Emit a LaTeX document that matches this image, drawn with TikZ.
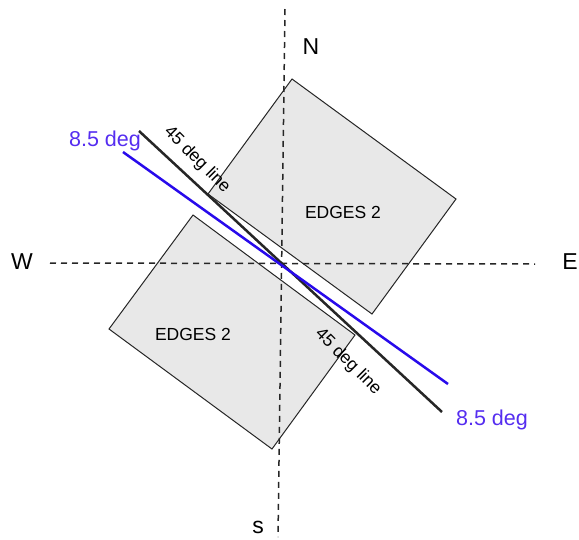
\documentclass[tikz,border=0pt]{standalone}
\usepackage{fontspec}
\setmainfont{Liberation Sans}
\usetikzlibrary{calc}
\definecolor{tiltblue}{RGB}{40,10,235}
\definecolor{tilttext}{RGB}{85,45,240}

\begin{document}
\begin{tikzpicture}[
  x=1pt, y=-1pt,
  font=\fontsize{17.5}{20}\selectfont,
  axis/.style={dash pattern=on 6pt off 5pt, line width=1.5pt, black!85},
  plate/.style={draw=black!85, line width=1pt, fill=gray!18},
  cutline/.style={line width=2.5pt, black!85},
  tiltline/.style={line width=2.5pt, tiltblue},
  compass/.style={font=\fontsize{23}{25}\selectfont},
  tiltlbl/.style={font=\fontsize{21.5}{24}\selectfont, text=tilttext},
  cutlbl/.style={rotate=-45, inner sep=1pt}
]
\useasboundingbox (0,0) rectangle (579,539);

% corners of the two plates
\coordinate (up-top) at (292,79);
\coordinate (up-right) at (456,199);
\coordinate (up-bottom) at (372,314);
\coordinate (up-left) at (208,194);
\coordinate (lo-top) at (193,215);
\coordinate (lo-right) at (355,335);
\coordinate (lo-bottom) at (272,449);
\coordinate (lo-left) at (109,329);

\draw[plate] (up-top) -- (up-right) -- (up-bottom) -- (up-left) -- cycle;
\draw[plate] (lo-top) -- (lo-right) -- (lo-bottom) -- (lo-left) -- cycle;

% compass axes
\coordinate (ax-n) at (285,9);
\coordinate (ax-s) at (278,537);
\coordinate (ax-w) at (50,263);
\coordinate (ax-e) at (535,264);
\draw[axis] (ax-n) -- (ax-s);
\draw[axis] (ax-w) -- (ax-e);

% 45 deg line and 8.5 deg line
\coordinate (cut-a) at (139,131);
\coordinate (cut-b) at (442,412);
\coordinate (tilt-a) at (123,152);
\coordinate (tilt-b) at (448,384);
\draw[cutline] (cut-a) -- (cut-b);
\draw[tiltline] (tilt-a) -- (tilt-b);

\node[compass] (lbl-n) at (311,47) {N};
\node[compass] (lbl-w) at (22,262) {W};
\node[compass] (lbl-e) at (570,262) {E};
\node[compass] (lbl-s) at (258,527) {s};

\node (edges-up) at (343,212) {EDGES 2};
\node (edges-lo) at (193,334) {EDGES 2};

\node[cutlbl] (cut-up) at (197,160) {45 deg line};
\node[cutlbl] (cut-lo) at (348,362) {45 deg line};

\node[tiltlbl] (tilt-up) at (105,141) {8.5 deg};
\node[tiltlbl] (tilt-lo) at (492,420) {8.5 deg};
\end{tikzpicture}
\end{document}
